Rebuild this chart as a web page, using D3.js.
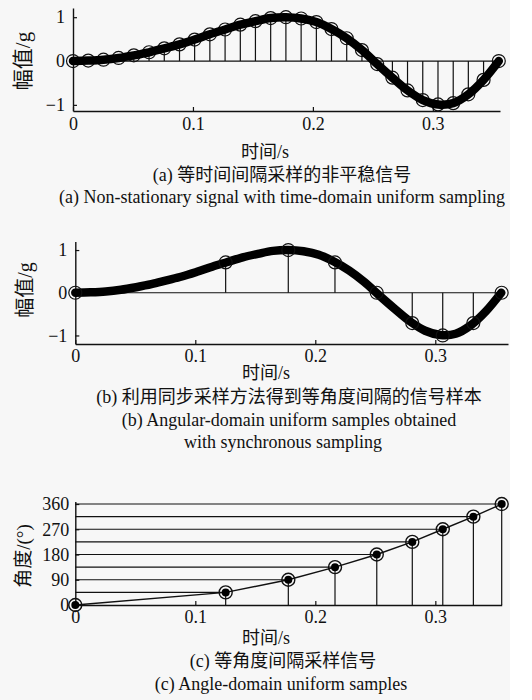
<!DOCTYPE html>
<html>
<head>
<meta charset="utf-8">
<script src="https://cdn.jsdelivr.net/npm/d3@7"></script>
<style>
  body { margin: 0; background: #ffffff; }
  svg { display: block; }
</style>
</head>
<body>
<script>
// (a) time-domain uniform samples of the signal
var timeA = [0, 0.0127, 0.0254, 0.0380, 0.0507, 0.0634, 0.0761, 0.0888, 0.1014, 0.1141,
  0.1268, 0.1395, 0.1521, 0.1648, 0.1775, 0.1902, 0.2029, 0.2155, 0.2282, 0.2409,
  0.2536, 0.2663, 0.2789, 0.2916, 0.3043, 0.3170, 0.3296, 0.3423, 0.3550];
var ampA = [0, 0.01, 0.03, 0.07, 0.13, 0.20, 0.29, 0.38, 0.49, 0.61,
  0.72, 0.83, 0.91, 0.98, 1.00, 0.97, 0.89, 0.73, 0.52, 0.25,
  -0.07, -0.38, -0.67, -0.89, -0.99, -0.96, -0.76, -0.43, 0];

// (b)/(c) angle-domain uniform samples
var timeB = [0, 0.1253, 0.1775, 0.2164, 0.2512, 0.2808, 0.3062, 0.3317, 0.3553];
var ampB = [0, 0.71, 1.0, 0.71, 0, -0.71, -1.0, -0.71, 0];
var angleC = [0, 45, 90, 135, 180, 225, 270, 315, 360];

var tickT = [0, 0.1, 0.2, 0.3];
var tickAmp = [-1, 0, 1];
var tickAngle = [0, 90, 180, 270, 360];

var serif = "'Liberation Serif', 'Noto Sans CJK SC', serif";
var ink = "#111";

var svg = d3.select("body").append("svg")
  .attr("width", 532)
  .attr("height", 700);

svg.append("rect")
  .attr("width", 510)
  .attr("height", 700)
  .attr("fill", "#f7f7f7");

function fmtT(d) { return d === 0 ? "0" : d3.format(".1f")(d); }

function drawAxes(g, x, y, yTicks, xPad, yPad) {
  var ax = g.append("g")
    .attr("transform", "translate(0," + y.range()[0] + ")")
    .call(d3.axisBottom(x).tickValues(tickT).tickFormat(fmtT)
      .tickSizeInner(-4).tickSizeOuter(0).tickPadding(xPad));
  var ay = g.append("g")
    .attr("transform", "translate(" + x.range()[0] + ",0)")
    .call(d3.axisLeft(y).tickValues(yTicks).tickFormat(d3.format("d"))
      .tickSizeInner(-4).tickSizeOuter(0).tickPadding(yPad));
  [ax, ay].forEach(function(a) {
    a.attr("font-family", serif).attr("font-size", 18);
    a.select(".domain").attr("stroke", ink).attr("stroke-width", 1.4);
    a.selectAll("line").attr("stroke", ink).attr("stroke-width", 1.2);
    a.selectAll("text").attr("fill", ink);
  });
}

function label(txt, cx, cy, size, rot) {
  svg.append("text")
    .attr("transform", "translate(" + cx + "," + cy + ")" + (rot ? " rotate(-90)" : ""))
    .attr("text-anchor", "middle")
    .attr("dominant-baseline", "central")
    .attr("font-family", serif)
    .attr("font-size", size)
    .attr("fill", ink)
    .text(txt);
}

// ---------- (a) ----------
var xA = d3.scaleLinear().domain([0, 0.356]).range([73, 500]);
var yA = d3.scaleLinear().domain([-1.14, 1.21]).range([111, 8]);
var gA = svg.append("g");
drawAxes(gA, xA, yA, tickAmp, 6, 8);

gA.append("line")
  .attr("x1", xA(0)).attr("x2", xA(timeA[timeA.length - 1]))
  .attr("y1", yA(0)).attr("y2", yA(0))
  .attr("stroke", ink).attr("stroke-width", 1.2);

gA.selectAll(".stem")
  .data(ampA)
  .enter()
  .append("line")
  .attr("x1", function(d, i) { return xA(timeA[i]); })
  .attr("x2", function(d, i) { return xA(timeA[i]); })
  .attr("y1", yA(0))
  .attr("y2", function(d) { return yA(d); })
  .attr("stroke", ink)
  .attr("stroke-width", 1.2);

gA.selectAll(".dot")
  .data(ampA)
  .enter()
  .append("circle")
  .attr("cx", function(d, i) { return xA(timeA[i]); })
  .attr("cy", function(d) { return yA(d); })
  .attr("r", 6.5)
  .attr("fill", "none")
  .attr("stroke", ink)
  .attr("stroke-width", 1.2);

var lineA = d3.line()
  .x(function(d, i) { return xA(timeA[i]); })
  .y(function(d) { return yA(d); })
  .curve(d3.curveCatmullRom);

gA.append("path")
  .attr("d", lineA(ampA))
  .attr("fill", "none")
  .attr("stroke", "#000")
  .attr("stroke-width", 8.5)
  .attr("stroke-linecap", "round");

label("幅值/g", 23, 61, 21, true);
label("时间/s", 265, 152, 18);
label("(a) 等时间间隔采样的非平稳信号", 282, 175, 18);
label("(a) Non-stationary signal with time-domain uniform sampling", 282, 197, 18);

// ---------- (b) ----------
var xB = d3.scaleLinear().domain([0, 0.3606]).range([75.3, 508]);
var yB = d3.scaleLinear().domain([-1.2, 1.2]).range([344, 241.5]);
var gB = svg.append("g");
drawAxes(gB, xB, yB, tickAmp, 5, 8);

gB.append("line")
  .attr("x1", xB(0)).attr("x2", xB(timeB[timeB.length - 1]))
  .attr("y1", yB(0)).attr("y2", yB(0))
  .attr("stroke", ink).attr("stroke-width", 1.2);

gB.selectAll(".stem")
  .data(ampB)
  .enter()
  .append("line")
  .attr("x1", function(d, i) { return xB(timeB[i]); })
  .attr("x2", function(d, i) { return xB(timeB[i]); })
  .attr("y1", yB(0))
  .attr("y2", function(d) { return yB(d); })
  .attr("stroke", ink)
  .attr("stroke-width", 1.2);

var lineB = d3.line()
  .x(function(d, i) { return xB(timeA[i]); })
  .y(function(d) { return yB(d); })
  .curve(d3.curveCatmullRom);

gB.append("path")
  .attr("d", lineB(ampA))
  .attr("fill", "none")
  .attr("stroke", "#000")
  .attr("stroke-width", 8.5)
  .attr("stroke-linecap", "round");

gB.selectAll(".dot")
  .data(ampB)
  .enter()
  .append("circle")
  .attr("cx", function(d, i) { return xB(timeB[i]); })
  .attr("cy", function(d) { return yB(d); })
  .attr("r", 6.5)
  .attr("fill", "none")
  .attr("stroke", ink)
  .attr("stroke-width", 1.2);

label("幅值/g", 25, 290, 20, true);
label("时间/s", 266, 373, 18);
label("(b) 利用同步采样方法得到等角度间隔的信号样本", 289, 397, 18);
label("(b) Angular-domain uniform samples obtained", 289, 420, 18);
label("with synchronous sampling", 283, 442, 18);

// ---------- (c) ----------
var xC = d3.scaleLinear().domain([0, 0.3553]).range([75.3, 501.7]);
var yC = d3.scaleLinear().domain([0, 369]).range([605, 501.5]);
var gC = svg.append("g");
drawAxes(gC, xC, yC, tickAngle, 5, 6);

gC.selectAll(".hline")
  .data(angleC.slice(1))
  .enter()
  .append("line")
  .attr("x1", xC(0))
  .attr("x2", function(d, i) { return xC(timeB[i + 1]); })
  .attr("y1", function(d) { return yC(d); })
  .attr("y2", function(d) { return yC(d); })
  .attr("stroke", ink)
  .attr("stroke-width", 1.2);

gC.selectAll(".vline")
  .data(angleC.slice(1))
  .enter()
  .append("line")
  .attr("x1", function(d, i) { return xC(timeB[i + 1]); })
  .attr("x2", function(d, i) { return xC(timeB[i + 1]); })
  .attr("y1", yC(0))
  .attr("y2", function(d) { return yC(d); })
  .attr("stroke", ink)
  .attr("stroke-width", 1.2);

var lineC = d3.line()
  .x(function(d, i) { return xC(timeB[i]); })
  .y(function(d) { return yC(d); });

gC.append("path")
  .attr("d", lineC(angleC))
  .attr("fill", "none")
  .attr("stroke", ink)
  .attr("stroke-width", 1.4);

gC.selectAll(".ring")
  .data(angleC)
  .enter()
  .append("circle")
  .attr("cx", function(d, i) { return xC(timeB[i]); })
  .attr("cy", function(d) { return yC(d); })
  .attr("r", 6.5)
  .attr("fill", "none")
  .attr("stroke", ink)
  .attr("stroke-width", 1.4);

gC.selectAll(".dot")
  .data(angleC)
  .enter()
  .append("circle")
  .attr("cx", function(d, i) { return xC(timeB[i]); })
  .attr("cy", function(d) { return yC(d); })
  .attr("r", 4)
  .attr("fill", "#000");

label("角度/(°)", 23, 556, 19, true);
label("时间/s", 266, 638, 18);
label("(c) 等角度间隔采样信号", 283, 661, 18);
label("(c) Angle-domain uniform samples", 281, 684, 18);
</script>
</body>
</html>
